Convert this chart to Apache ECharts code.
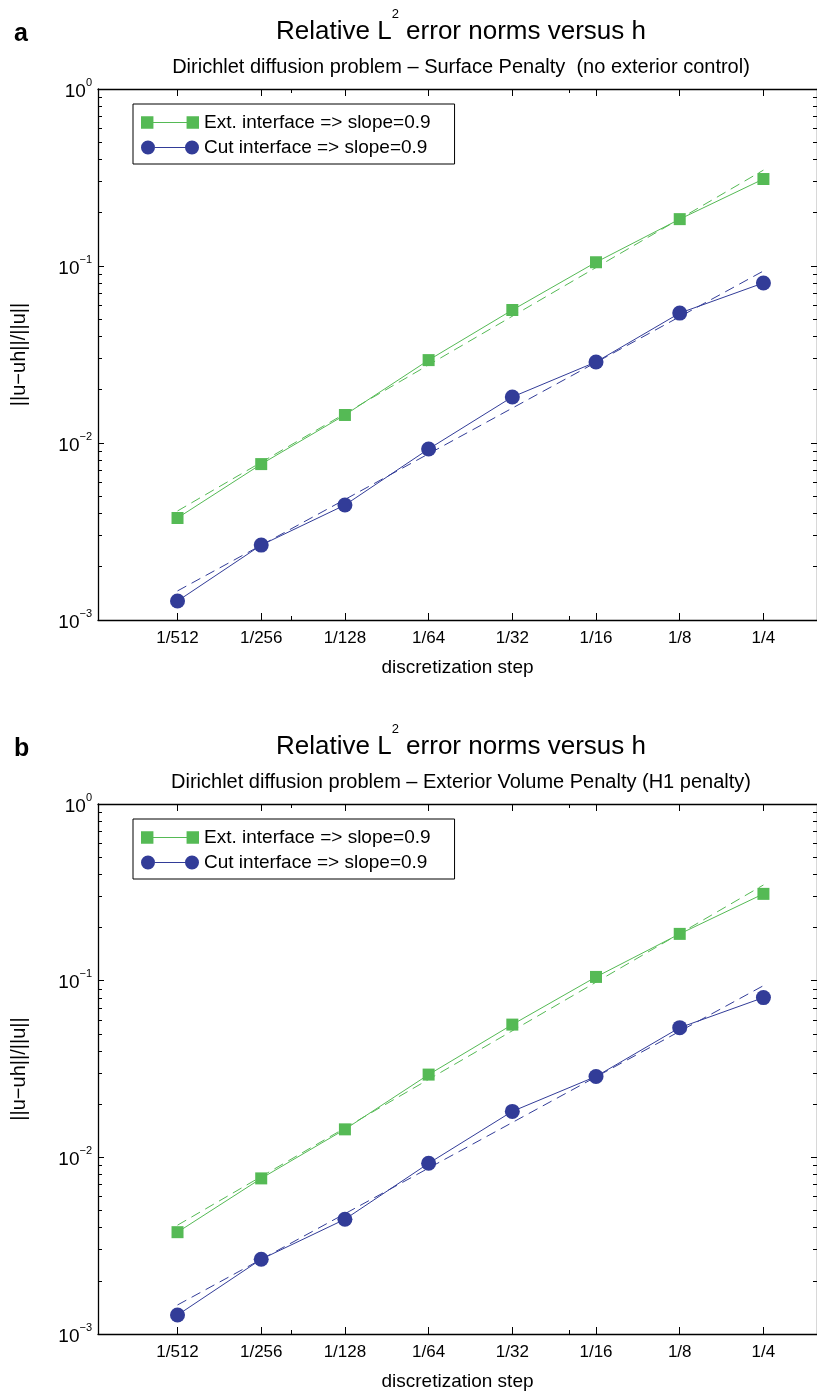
<!DOCTYPE html>
<html><head><meta charset="utf-8">
<script src="https://cdn.jsdelivr.net/npm/echarts@6/dist/echarts.min.js"></script>
<style>html,body{margin:0;padding:0;background:#fff}#c{width:817px;height:1392px}</style>
</head><body><div id="c"></div>
<script>
// ---- data ----
const stepLabels = ['1/512','1/256','1/128','1/64','1/32','1/16','1/8','1/4'];
const stepValues = [1/512,1/256,1/128,1/64,1/32,1/16,1/8,1/4];
const extError = [0.00377,0.0076,0.0144,0.0294,0.0564,0.105,0.184,0.310];
const cutError = [0.00128,0.00265,0.00446,0.00925,0.0182,0.0287,0.0542,0.0802];
const fitSteps = [1/512, 1/4];
const extFit = [0.00413, 0.348];
const cutFit = [0.00146, 0.0937];
const yMajorTicks = [0.001, 0.01, 0.1, 1];
const xMinorTicks = [0.005, 0.05];
const seriesNames = ['Ext. interface => slope=0.9', 'Cut interface => slope=0.9'];
const panelLetters = ['a', 'b'];
const panelSubtitles = [
  'Dirichlet diffusion problem \u2013 Surface Penalty  (no exterior control)',
  'Dirichlet diffusion problem \u2013 Exterior Volume Penalty (H1 penalty)'
];
const xName = 'discretization step';
const yName = '||u\u2212uh||/||u||';

// ---- layout / style ----
const FONT = 'Liberation Sans, Arial, Helvetica, sans-serif';
const GREEN = '#55ba55';
const BLUE = '#323c98';
const panelTop = [89, 804];
const gridLeft = 98, gridWidth = 722, gridHeight = 531;
const xMin = Math.log2(1/512) - 0.95, xMax = Math.log2(1/4) + 0.64;

const lg2 = v => Math.log2(v);
const lg10 = v => Math.log10(v);
const yMinor = [];
for (let k = -3; k < 0; k++) for (let m = 2; m <= 9; m++) yMinor.push(lg10(m * Math.pow(10, k)));
const xMajor = stepValues.map(lg2);
const xMinorPos = xMinorTicks.map(lg2);
const yMajor = yMajorTicks.map(lg10);

const grids = [], xAxes = [], yAxes = [], series = [], titles = [], legends = [];
const axisLine = {show: true, onZero: false, lineStyle: {color: '#000', width: 1.3}};
const noLine = {show: false, onZero: false};

panelTop.forEach((top, p) => {
  grids.push({left: gridLeft, top: top, width: gridWidth, height: gridHeight});
  const xb = xAxes.length, yb = yAxes.length;
  xAxes.push({type: 'value', gridIndex: p, position: 'bottom', min: xMin, max: xMax,
    axisLine: axisLine, splitLine: {show: false},
    axisTick: {show: true, inside: true, length: 7, customValues: xMajor, lineStyle: {color: '#000'}},
    axisLabel: {show: true, margin: 10, customValues: xMajor, color: '#000', fontFamily: FONT, fontSize: 17,
      formatter: v => stepLabels[xMajor.findIndex(t => Math.abs(t - v) < 1e-6)] || ''},
    name: xName, nameLocation: 'middle', nameGap: 38,
    nameTextStyle: {color: '#000', fontFamily: FONT, fontSize: 19}});
  xAxes.push({type: 'value', gridIndex: p, position: 'top', min: xMin, max: xMax,
    axisLine: axisLine, splitLine: {show: false}, axisLabel: {show: false},
    axisTick: {show: true, inside: true, length: 7, customValues: xMajor, lineStyle: {color: '#000'}}});
  ['bottom', 'top'].forEach(pos => xAxes.push({type: 'value', gridIndex: p, position: pos, min: xMin, max: xMax,
    axisLine: noLine, splitLine: {show: false}, axisLabel: {show: false},
    axisTick: {show: true, inside: true, length: 4, customValues: xMinorPos, lineStyle: {color: '#000'}}}));
  yAxes.push({type: 'value', gridIndex: p, position: 'left', min: -3, max: 0,
    axisLine: axisLine, splitLine: {show: false},
    axisTick: {show: true, inside: true, length: 6, customValues: yMajor, lineStyle: {color: '#000'}},
    axisLabel: {show: true, margin: 6, customValues: yMajor, color: '#000',
      formatter: v => '{b|10}{s|' + (Math.round(v) === 0 ? '0' : '\u2212' + Math.round(-v)) + '}',
      rich: {b: {fontFamily: FONT, fontSize: 19, color: '#000', verticalAlign: 'bottom', lineHeight: 24},
             s: {fontFamily: FONT, fontSize: 11, color: '#000', verticalAlign: 'top', lineHeight: 11}}},
    name: yName, nameLocation: 'middle', nameGap: 69, nameRotate: 90,
    nameTextStyle: {color: '#000', fontFamily: FONT, fontSize: 20}});
  yAxes.push({type: 'value', gridIndex: p, position: 'right', min: -3, max: 0,
    axisLine: axisLine, splitLine: {show: false}, axisLabel: {show: false},
    axisTick: {show: true, inside: true, length: 6, customValues: yMajor, lineStyle: {color: '#000'}}});
  ['left', 'right'].forEach(pos => yAxes.push({type: 'value', gridIndex: p, position: pos, min: -3, max: 0,
    axisLine: noLine, splitLine: {show: false}, axisLabel: {show: false},
    axisTick: {show: true, inside: true, length: 4, customValues: yMinor, lineStyle: {color: '#000'}}}));

  const fitDash = {type: [10, 6], width: 1};
  series.push({name: 'Ext. fit', type: 'line', xAxisIndex: xb, yAxisIndex: yb, symbol: 'none', silent: true,
    data: fitSteps.map((h, i) => [lg2(h), lg10(extFit[i])]), lineStyle: Object.assign({color: GREEN}, fitDash), z: 2});
  series.push({name: 'Cut fit', type: 'line', xAxisIndex: xb, yAxisIndex: yb, symbol: 'none', silent: true,
    data: fitSteps.map((h, i) => [lg2(h), lg10(cutFit[i])]), lineStyle: Object.assign({color: BLUE}, fitDash), z: 2});
  series.push({name: seriesNames[0], type: 'line', xAxisIndex: xb, yAxisIndex: yb, symbol: 'rect', symbolSize: 12,
    data: stepValues.map((h, i) => [lg2(h), lg10(extError[i])]),
    itemStyle: {color: GREEN}, lineStyle: {color: GREEN, width: 1}, z: 3});
  series.push({name: seriesNames[1], type: 'line', xAxisIndex: xb, yAxisIndex: yb, symbol: 'circle', symbolSize: 15,
    data: stepValues.map((h, i) => [lg2(h), lg10(cutError[i])]),
    itemStyle: {color: BLUE}, lineStyle: {color: BLUE, width: 1}, z: 3});

  const off = top - panelTop[0];
  titles.push({text: panelLetters[p], left: 9, top: 17 + off,
    textStyle: {fontFamily: FONT, fontSize: 25, fontWeight: 'bold', color: '#000'}});
  titles.push({text: '{n|Relative L}{s|2}{n| error norms versus h}', left: 456, textAlign: 'center', top: 3 + off,
    textStyle: {rich: {n: {fontFamily: FONT, fontSize: 26, fontWeight: 'normal', color: '#000', verticalAlign: 'bottom', lineHeight: 37},
                       s: {fontFamily: FONT, fontSize: 13, fontWeight: 'normal', color: '#000', verticalAlign: 'top', lineHeight: 14}}}});
  titles.push({text: panelSubtitles[p], left: 456, textAlign: 'center', top: 52 + off,
    textStyle: {fontFamily: FONT, fontSize: 20, fontWeight: 'normal', color: '#000'}});

  legends.push({orient: 'vertical', left: 133, top: 104 + off, padding: [9, 24, 7, 8], itemGap: 6,
    itemWidth: 58, itemHeight: 14, borderColor: '#000', borderWidth: 1, backgroundColor: '#fff',
    textStyle: {fontFamily: FONT, fontSize: 19, color: '#000'},
    data: [
      {name: seriesNames[0], icon: 'path://M0,0H12V12H0Z M44,0H56V12H44Z M12,5.5H44V6.5H12Z'},
      {name: seriesNames[1], icon: 'path://M0,7a7,7 0 1,0 14,0a7,7 0 1,0 -14,0Z M44,7a7,7 0 1,0 14,0a7,7 0 1,0 -14,0Z M14,6.5H44V7.5H14Z'}
    ]});
});

const chart = echarts.init(document.getElementById('c'), null, {renderer: 'canvas'});
chart.setOption({animation: false, backgroundColor: '#fff', title: titles, legend: legends,
  grid: grids, xAxis: xAxes, yAxis: yAxes, series: series});
</script></body></html>
